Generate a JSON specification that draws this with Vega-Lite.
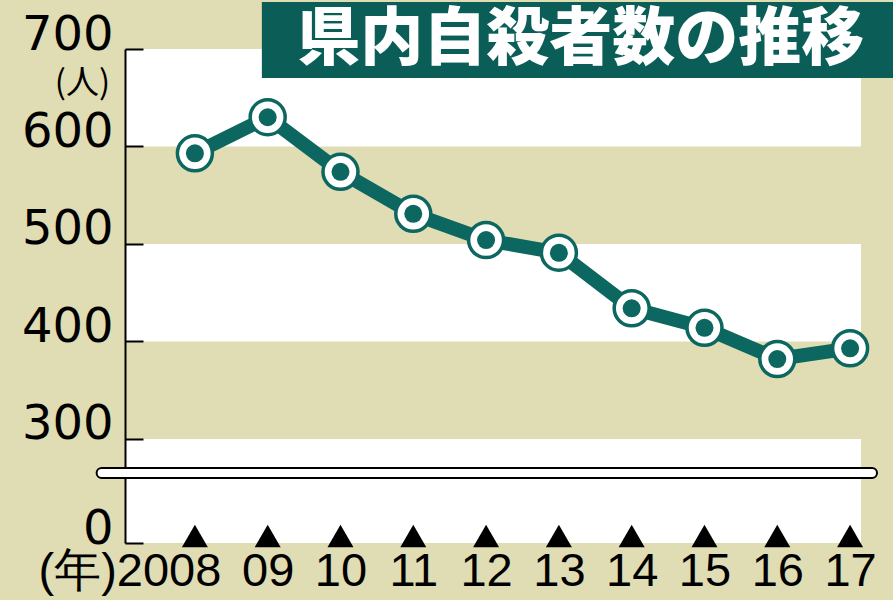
{
  "$schema": "https://vega.github.io/schema/vega-lite/v6.json",
  "width": 736,
  "height": 494,
  "autosize": "none",
  "padding": {"left": 125, "top": 49, "right": 32, "bottom": 57},
  "background": "#e0dcb3",
  "config": {"view": {"stroke": null, "fill": null}},
  "datasets": {
    "series": [
      {"year": 2008, "value": 593},
      {"year": 2009, "value": 630},
      {"year": 2010, "value": 574},
      {"year": 2011, "value": 531},
      {"year": 2012, "value": 504},
      {"year": 2013, "value": 491},
      {"year": 2014, "value": 434},
      {"year": 2015, "value": 414},
      {"year": 2016, "value": 382},
      {"year": 2017, "value": 393}
    ],
    "bands": [
      {"lo": 600, "hi": 700},
      {"lo": 400, "hi": 500},
      {"lo": 193.3, "hi": 300}
    ],
    "brk": [{"lo": 260, "hi": 270.3}],
    "title": [{"text": "県内自殺者数の推移"}]
  },
  "layer": [
    {
      "data": {"name": "bands"},
      "mark": {"type": "rect", "fill": "white"},
      "encoding": {
        "y": {"field": "lo", "type": "quantitative", "scale": {"domain": [193.3, 700], "nice": false, "zero": false},
          "axis": {
            "values": [193.3, 300, 400, 500, 600, 700],
            "labelExpr": "datum.value < 250 ? '0' : format(datum.value, 'd')",
            "zindex": 1,
            "grid": false,
            "domainColor": "black",
            "domainWidth": 2,
            "domainDash": [65, 10, 1000],
            "tickColor": "black",
            "tickWidth": 2,
            "tickSize": -18,
            "labelPadding": 30,
            "labelFont": "DejaVu Sans",
            "labelFontSize": 48,
            "labelColor": "black",
            "labelBaseline": "alphabetic",
            "title": "(人)",
            "titleAngle": 0,
            "titleFont": "Noto Sans CJK JP",
            "titleFontSize": 33,
            "titleFontWeight": "normal",
            "titleColor": "black",
            "titleAlign": "center",
            "titleBaseline": "middle",
            "titleX": -43,
            "titleY": 34
          }
        },
        "y2": {"field": "hi"}
      }
    },
    {
      "data": {"name": "brk"},
      "mark": {"type": "rect", "fill": "white", "stroke": "black", "strokeWidth": 2, "cornerRadius": 5},
      "encoding": {
        "x": {"datum": 2006.65, "type": "quantitative"},
        "x2": {"datum": 2017.37},
        "y": {"field": "lo", "type": "quantitative"},
        "y2": {"field": "hi"}
      }
    },
    {
      "data": {"name": "series"},
      "mark": {"type": "line", "color": "#0b675f", "strokeWidth": 14},
      "encoding": {
        "x": {"field": "year", "type": "quantitative",
          "scale": {"domain": [2007.04, 2017.15], "nice": false, "zero": false},
          "axis": {
            "values": [2008, 2009, 2010, 2011, 2012, 2013, 2014, 2015, 2016, 2017],
            "labelExpr": "datum.value == 2008 ? '(年)2008' : substring(toString(datum.value), 2)",
            "grid": false,
            "domain": false,
            "ticks": false,
            "labelFont": "Liberation Sans",
            "labelFontSize": 47,
            "labelColor": "black",
            "labelBaseline": "top",
            "labelPadding": 5,
            "labelLimit": 0,
            "labelOverlap": false,
            "labelAlign": {"condition": {"test": "datum.value == 2008", "value": "right"}, "value": "center"},
            "labelOffset": {"condition": {"test": "datum.value == 2008", "value": 26}, "value": 0},
            "title": null
          }
        },
        "y": {"field": "value", "type": "quantitative"}
      }
    },
    {
      "data": {"name": "series"},
      "mark": {"type": "point", "shape": "circle", "filled": true, "fill": "white", "stroke": "#0b675f", "strokeWidth": 3.5, "size": 1225, "opacity": 1},
      "encoding": {
        "x": {"field": "year", "type": "quantitative"},
        "y": {"field": "value", "type": "quantitative"}
      }
    },
    {
      "data": {"name": "series"},
      "mark": {"type": "circle", "color": "#0b675f", "size": 324, "opacity": 1},
      "encoding": {
        "x": {"field": "year", "type": "quantitative"},
        "y": {"field": "value", "type": "quantitative"}
      }
    },
    {
      "data": {"name": "series"},
      "mark": {"type": "point", "shape": "triangle-up", "filled": true, "color": "black", "size": 676, "opacity": 1},
      "encoding": {
        "x": {"field": "year", "type": "quantitative"},
        "y": {"datum": 200.5, "type": "quantitative"}
      }
    },
    {
      "data": {"name": "title"},
      "mark": {"type": "rect", "fill": "#0b5e57"},
      "encoding": {
        "x": {"datum": 2008.92, "type": "quantitative"},
        "x2": {"datum": 2017.6},
        "y": {"datum": 748.2, "type": "quantitative"},
        "y2": {"datum": 670.3}
      }
    },
    {
      "data": {"name": "title"},
      "mark": {"type": "text", "font": "Noto Sans CJK JP", "fontSize": 63, "fontWeight": 900, "fill": "white", "align": "center", "baseline": "middle"},
      "encoding": {
        "x": {"datum": 2013.3, "type": "quantitative"},
        "y": {"datum": 709.2, "type": "quantitative"},
        "text": {"field": "text"}
      }
    }
  ]
}
